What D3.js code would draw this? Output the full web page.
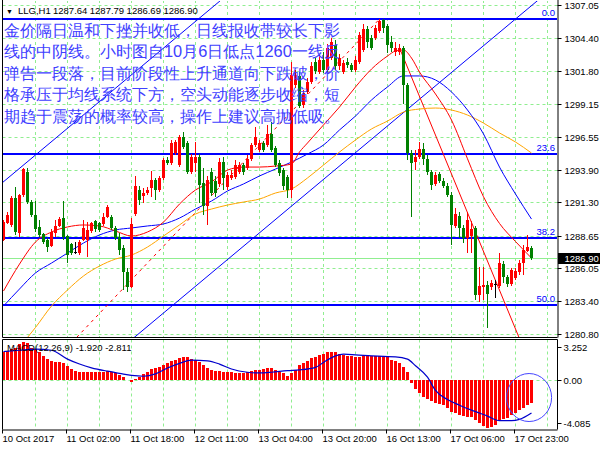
<!DOCTYPE html>
<html><head><meta charset="utf-8">
<script src="https://cdn.jsdelivr.net/npm/d3@7"></script>
<style>
body{margin:0;background:#fff;}
svg{display:block;}
text{font-family:"Liberation Sans",Arial,sans-serif;}
</style>
</head><body>
<svg id="c" width="600" height="450"></svg>
<script>
// ---------------- DATA ----------------
const symbol = "LLG,H1";
const headerValues = ["1287.64", "1287.79", "1286.69", "1286.90"];
const timeLabels = ["10 Oct 2017","11 Oct 02:00","11 Oct 18:00","12 Oct 11:00","13 Oct 04:00","13 Oct 20:00","16 Oct 13:00","17 Oct 06:00","17 Oct 23:00"];
const timeLabelBars = [0,16,32,48,64,80,96,112,128];
const priceTicks = [1307.05,1304.40,1301.80,1299.15,1296.55,1293.90,1291.30,1288.65,1286.05,1283.40,1280.80];
const macdTicks = [3.252, 0, -4.085];
const macdTickLabels = ["3.252", "0.00", "-4.085"];

const opens = [1288.30,1289.65,1289.50,1291.65,1288.86,1291.89,1293.72,1291.33,1290.29,1289.34,1288.78,1288.30,1287.82,1288.86,1289.42,1290.05,1288.62,1287.98,1287.34,1287.26,1288.30,1288.30,1289.02,1289.81,1289.65,1289.58,1290.13,1290.13,1289.26,1288.54,1287.66,1285.75,1284.55,1290.37,1292.29,1291.81,1292.05,1292.45,1293.09,1292.29,1293.25,1294.68,1294.44,1295.24,1294.28,1296.52,1296.04,1293.72,1294.44,1294.92,1292.85,1291.01,1293.72,1293.01,1292.77,1294.52,1292.53,1293.25,1293.33,1293.72,1294.28,1294.04,1294.76,1295.88,1295.48,1296.04,1295.88,1296.76,1295.64,1294.44,1293.88,1293.33,1292.29,1300.67,1301.39,1299.07,1300.11,1300.91,1302.50,1301.70,1302.66,1301.86,1302.82,1303.86,1302.18,1301.70,1302.50,1302.26,1301.86,1302.50,1303.46,1305.14,1304.42,1304.42,1304.98,1305.85,1305.38,1304.10,1303.30,1303.30,1303.62,1300.67,1295.24,1294.52,1294.92,1295.56,1294.76,1293.72,1292.77,1293.57,1293.01,1292.61,1291.89,1289.42,1290.21,1289.26,1288.46,1288.62,1289.26,1283.91,1284.55,1284.71,1284.55,1284.79,1284.63,1286.38,1285.35,1284.79,1285.27,1285.75,1286.46,1287.42,1287.64];
const highs = [1289.89,1290.53,1291.81,1292.53,1291.97,1294.04,1294.04,1291.49,1291.41,1289.89,1288.86,1288.46,1289.18,1289.89,1290.13,1291.41,1288.70,1288.06,1288.14,1288.30,1289.89,1289.73,1289.73,1289.89,1289.73,1290.45,1291.09,1290.29,1289.42,1288.86,1287.90,1286.06,1290.05,1293.41,1292.61,1292.45,1292.53,1293.80,1293.25,1293.41,1294.84,1294.92,1296.28,1296.28,1296.68,1296.92,1296.20,1295.16,1296.12,1295.16,1294.04,1293.41,1294.04,1293.41,1294.84,1294.92,1293.72,1293.88,1294.68,1294.52,1294.44,1295.08,1296.04,1297.32,1296.28,1296.20,1297.48,1297.71,1295.80,1294.68,1294.04,1293.49,1302.50,1301.86,1301.70,1300.27,1301.23,1302.50,1302.82,1303.06,1303.30,1303.94,1304.42,1304.26,1303.14,1302.66,1302.82,1302.42,1302.98,1304.90,1305.53,1305.38,1304.66,1305.45,1305.93,1305.90,1305.53,1304.58,1304.10,1303.94,1303.78,1300.83,1295.48,1295.48,1296.12,1296.04,1295.08,1293.88,1293.72,1293.72,1293.25,1292.85,1292.13,1290.85,1290.53,1289.50,1290.53,1289.81,1289.42,1286.14,1286.14,1285.03,1285.11,1285.11,1287.26,1286.62,1285.51,1286.06,1286.06,1286.70,1287.90,1288.70,1287.79];
const lows = [1288.22,1289.58,1289.34,1288.70,1288.54,1291.73,1291.17,1290.13,1288.94,1288.54,1287.98,1287.34,1287.74,1288.54,1289.34,1288.30,1286.46,1287.10,1287.18,1287.10,1288.22,1286.94,1288.86,1288.94,1288.94,1289.42,1290.05,1289.10,1288.30,1287.10,1284.31,1284.15,1284.47,1290.21,1291.09,1291.25,1291.89,1291.73,1291.49,1292.13,1293.09,1294.28,1294.28,1295.08,1294.12,1295.56,1293.57,1293.57,1293.72,1291.25,1290.29,1289.50,1291.81,1291.73,1292.53,1292.29,1292.29,1293.09,1293.17,1293.57,1293.49,1293.88,1294.60,1295.72,1295.32,1295.32,1295.72,1295.32,1294.12,1293.41,1292.29,1291.65,1291.65,1300.43,1298.83,1298.83,1299.95,1300.75,1301.54,1301.54,1301.62,1301.70,1302.66,1301.86,1301.86,1301.54,1302.02,1301.70,1301.70,1302.34,1303.30,1303.62,1303.46,1304.26,1304.82,1304.82,1303.22,1303.30,1302.98,1303.06,1299.15,1294.68,1290.13,1293.88,1294.76,1294.28,1293.49,1292.29,1292.61,1292.85,1292.45,1291.73,1287.90,1289.26,1288.46,1288.06,1287.26,1287.26,1283.51,1283.35,1283.51,1281.28,1284.31,1283.67,1284.47,1284.87,1284.55,1284.63,1285.11,1285.51,1285.51,1287.34,1286.69];
const closes = [1289.73,1290.29,1291.65,1288.94,1291.89,1293.96,1291.33,1290.29,1289.18,1288.70,1288.14,1287.74,1288.94,1289.42,1289.97,1288.54,1287.10,1287.26,1287.34,1288.14,1289.26,1289.10,1289.65,1289.18,1289.10,1290.13,1290.93,1289.26,1288.46,1287.50,1285.75,1284.55,1289.58,1292.61,1291.49,1292.05,1292.29,1293.09,1292.29,1293.25,1294.68,1294.44,1296.04,1296.12,1296.52,1295.72,1293.72,1294.92,1294.92,1292.69,1291.01,1293.09,1292.05,1292.05,1294.52,1293.25,1293.49,1293.49,1294.28,1294.28,1293.72,1294.76,1295.88,1296.52,1296.04,1295.48,1296.76,1295.48,1294.28,1293.65,1292.61,1292.29,1301.46,1301.46,1298.99,1300.03,1300.91,1302.18,1301.78,1302.66,1301.86,1303.62,1304.10,1302.18,1302.82,1302.42,1302.26,1301.86,1302.66,1304.66,1305.14,1304.10,1303.62,1305.22,1305.77,1305.22,1303.86,1303.62,1303.62,1303.62,1300.67,1295.24,1294.44,1294.92,1295.56,1294.76,1293.72,1292.69,1293.49,1293.01,1292.61,1291.89,1289.50,1290.37,1289.26,1288.46,1289.89,1289.18,1283.91,1284.63,1284.71,1283.99,1284.87,1284.79,1286.46,1285.35,1284.79,1285.90,1285.83,1286.46,1287.50,1287.74,1286.90];

const redMaBars = [0,4,8,12,16,20,24,28,32,36,40,44,48,52,56,60,64,68,72,74,76,80,84,88,92,96,98,100,102,104,108,112,116,120,124,128,132];
const redMa = [1284.23,1286.38,1288.14,1288.94,1289.34,1289.50,1289.42,1289.02,1288.62,1288.94,1289.73,1291.17,1292.29,1292.93,1293.88,1294.12,1294.12,1294.20,1294.36,1295.32,1296.04,1297.48,1298.91,1300.51,1301.94,1302.98,1303.38,1303.46,1302.82,1301.70,1299.95,1297.87,1294.78,1291.75,1289.62,1288.18,1286.86];
const blueMaBars = [0,4,8,12,16,20,24,28,32,36,40,44,48,52,56,60,64,68,72,76,80,84,88,92,96,100,104,108,112,116,120,124,128,132];
const blueMa = [1283.03,1284.39,1285.67,1286.46,1287.26,1288.06,1288.70,1289.10,1289.26,1289.42,1289.58,1290.05,1290.77,1291.41,1292.21,1292.77,1293.41,1293.96,1294.52,1295.16,1295.88,1297.08,1298.19,1299.47,1300.51,1301.39,1301.39,1301.07,1300.11,1298.67,1296.76,1294.12,1291.97,1289.97];
const orangeMaBars = [4,8,12,16,20,24,28,32,36,40,44,48,52,56,60,64,68,72,76,80,84,88,92,96,100,104,108,112,116,120,124,128,132];
const orangeMa = [1279.76,1281.32,1283.03,1284.31,1285.43,1286.22,1286.78,1287.10,1287.74,1288.62,1289.50,1290.37,1290.77,1291.09,1291.33,1291.57,1292.05,1292.37,1293.25,1294.28,1295.32,1296.28,1297.16,1297.79,1298.51,1298.75,1298.83,1298.67,1298.27,1297.63,1296.84,1296.12,1295.24];

const macdHist = [2.36,2.50,2.64,2.72,3.10,3.252,3.15,2.78,2.64,2.36,2.07,1.79,1.65,1.51,1.51,1.46,1.23,0.95,0.81,0.73,0.67,0.67,0.67,0.67,0.73,0.73,0.75,0.67,0.58,0.47,0.25,0.02,-0.17,0.11,0.30,0.53,0.67,0.95,1.03,1.15,1.32,1.46,1.60,1.71,1.88,1.93,1.93,1.79,1.71,1.51,1.32,1.03,0.87,0.75,0.75,0.70,0.67,0.67,0.61,0.58,0.58,0.67,0.75,0.87,0.89,0.98,1.03,1.03,0.87,0.67,0.58,0.39,0.58,0.87,1.29,1.43,1.65,1.88,1.99,2.16,2.27,2.36,2.41,2.41,2.27,2.16,2.07,2.07,1.99,1.99,2.07,2.07,2.07,2.07,2.07,2.02,1.93,1.71,1.60,1.43,1.09,0.67,-0.23,-0.74,-1.10,-1.44,-1.58,-1.78,-1.94,-2.00,-2.14,-2.34,-2.70,-2.84,-2.98,-3.07,-3.13,-3.18,-3.41,-3.70,-3.95,-4.085,-4.00,-3.80,-3.50,-3.35,-3.27,-2.98,-2.79,-2.56,-2.34,-2.14,-1.92];
const signalBars = [0,4,8,12,16,19,22,26,29,32,35,38,41,44,47,51,54,57,61,64,67,71,74,78,80,83,85,88,92,95,98,101,103,106,108,111,114,117,121,124,127,129,132];
const signalVals = [2.44,2.55,2.64,2.55,1.79,1.37,1.05,0.76,0.58,0.40,0.33,0.53,1.03,1.43,1.71,1.65,1.37,0.95,0.67,0.61,0.67,0.81,0.87,1.09,1.51,2.07,2.21,2.16,2.07,2.02,1.99,1.79,1.23,0.25,-0.88,-1.66,-2.14,-2.56,-3.07,-3.46,-3.46,-3.35,-2.811];
const macdTitle = "MACD(12,26,9) -1.920 -2.811";

// drawn objects (anchors as [bar, price])
const fibLow = [-42, 1260.30];
const fibHigh = [94, 1305.93];
const fibLevels = [0, 0.236, 0.382, 0.5];
const channelUpper = [[0, 1292.95], [60, 1308.94]];
const channelLower = [[30, 1279.81], [140, 1309.13]];
const downTrend = [[99, 1303.62], [129, 1280.43]];
const macdCircle = [131.4, -1.485];

const noteLines = [
  "金价隔日温和下挫并收低，日线报收带较长下影",
  "线的中阴线。小时图自10月6日低点1260一线反",
  "弹告一段落，目前阶段性上升通道向下跌破，价",
  "格承压于均线系统下方，空头动能逐步收缩，短",
  "期趋于震荡的概率较高，操作上建议高抛低吸。"
];

// ---------------- DRAWING ----------------
const svg = d3.select("#c");
const L = 2.5, R = 557.5, T = 0, B = 337.5, MT = 339.5, MB = 429.5;
const x = d3.scaleLinear().domain([0, 132]).range([3.5, 531.5]);
const y = d3.scaleLinear().domain([1280.80, 1307.05]).range([334, 5]);
const ym = d3.scaleLinear().domain([-4.085, 3.252]).range([428, 342]);
const gridColor = "#90ee90";
const snap = v => Math.round(v) + 0.5;

const defs = svg.append("defs");
defs.append("clipPath").attr("id", "cm").append("rect").attr("x", L + 0.5).attr("y", 1).attr("width", R - L - 1).attr("height", B - 1.5);
defs.append("clipPath").attr("id", "cd").append("rect").attr("x", L + 0.5).attr("y", MT + 0.5).attr("width", R - L - 1).attr("height", MB - MT - 1);

const gm = svg.append("g").attr("clip-path", "url(#cm)");
const gd = svg.append("g").attr("clip-path", "url(#cd)");

// grid
const gridBars = d3.range(8, 137, 8);
gm.selectAll(".hg").data(priceTicks).join("line")
  .attr("x1", L).attr("x2", R).attr("y1", d => snap(y(d))).attr("y2", d => snap(y(d)))
  .attr("stroke", gridColor).attr("stroke-dasharray", "3,3");
gm.selectAll(".vg").data(gridBars).join("line")
  .attr("x1", d => x(d)).attr("x2", d => x(d)).attr("y1", T).attr("y2", B)
  .attr("stroke", gridColor).attr("stroke-dasharray", "3,3");
gd.selectAll(".vg").data(gridBars).join("line")
  .attr("x1", d => x(d)).attr("x2", d => x(d)).attr("y1", MT).attr("y2", MB)
  .attr("stroke", gridColor).attr("stroke-dasharray", "3,3");
gd.append("line").attr("x1", L).attr("x2", R).attr("y1", snap(ym(0))).attr("y2", snap(ym(0)))
  .attr("stroke", gridColor).attr("stroke-dasharray", "3,3");

// bid line
const last = closes[closes.length - 1];
gm.append("line").attr("x1", L).attr("x2", R).attr("y1", snap(y(last))).attr("y2", snap(y(last)))
  .attr("stroke", gridColor).attr("stroke-width", 1);

// fibonacci levels
const fibRange = fibHigh[1] - fibLow[1];
const fibPrices = fibLevels.map(l => fibHigh[1] - fibRange * l);
gm.selectAll(".fib").data(fibPrices).join("line")
  .attr("x1", L).attr("x2", R).attr("y1", d => Math.round(y(d))).attr("y2", d => Math.round(y(d)))
  .attr("stroke", "#0000ff").attr("stroke-width", 2).attr("shape-rendering", "crispEdges");
gm.selectAll(".fibt").data(fibLevels).join("text")
  .attr("x", 555).attr("y", (d, i) => Math.round(y(fibPrices[i])) - 3)
  .attr("text-anchor", "end").attr("font-size", "9.5px").attr("fill", "#0000ff")
  .text(d => (d * 100).toFixed(1));
// fib trend line (dashed)
gm.append("line").attr("x1", x(fibLow[0])).attr("y1", y(fibLow[1])).attr("x2", x(fibHigh[0])).attr("y2", y(fibHigh[1]))
  .attr("stroke", "#ff0000").attr("stroke-dasharray", "3,4");

// channel lines
function extLine(p, x0, x1) {
  const s = (p[1][1] - p[0][1]) / (p[1][0] - p[0][0]);
  return [[x0, p[0][1] + s * (x0 - p[0][0])], [x1, p[0][1] + s * (x1 - p[0][0])]];
}
[channelUpper, channelLower].forEach(ch => {
  const e = extLine(ch, -10, 145);
  gm.append("line").attr("x1", x(e[0][0])).attr("y1", y(e[0][1])).attr("x2", x(e[1][0])).attr("y2", y(e[1][1]))
    .attr("stroke", "#0000ff").attr("stroke-width", 1);
});
{
  const e = extLine(downTrend, downTrend[0][0], 140);
  gm.append("line").attr("x1", x(e[0][0])).attr("y1", y(e[0][1])).attr("x2", x(e[1][0])).attr("y2", y(e[1][1]))
    .attr("stroke", "#ff0000").attr("stroke-width", 1);
}

// moving averages
function maLine(bars, vals, color) {
  const line = d3.line().x((d, i) => x(bars[i])).y(d => y(d)).curve(d3.curveMonotoneX);
  gm.append("path").attr("d", line(vals)).attr("fill", "none").attr("stroke", color).attr("stroke-width", 1);
}
maLine(orangeMaBars, orangeMa, "#ffa500");
maLine(blueMaBars, blueMa, "#0000ff");
maLine(redMaBars, redMa, "#ff0000");

// candles
const idx = d3.range(opens.length);
const col = i => closes[i] > opens[i] ? "#ff0000" : (closes[i] < opens[i] ? "#008000" : "#000000");
gm.selectAll(".wick").data(idx).join("line")
  .attr("x1", i => x(i)).attr("x2", i => x(i))
  .attr("y1", i => y(highs[i])).attr("y2", i => y(lows[i]))
  .attr("stroke", col).attr("stroke-width", 1).attr("shape-rendering", "crispEdges");
gm.selectAll(".body").data(idx).join("rect")
  .attr("x", i => x(i) - 1.5).attr("width", 3)
  .attr("y", i => y(Math.max(opens[i], closes[i])))
  .attr("height", i => Math.max(1, y(Math.min(opens[i], closes[i])) - y(Math.max(opens[i], closes[i]))))
  .attr("fill", col).attr("shape-rendering", "crispEdges");

// MACD histogram + signal
gd.selectAll(".hist").data(macdHist).join("rect")
  .attr("x", (d, i) => x(i) - 1.5).attr("width", 3)
  .attr("y", d => ym(Math.max(0, d))).attr("height", d => Math.abs(ym(d) - ym(0)))
  .attr("fill", "#ff0000").attr("shape-rendering", "crispEdges");
gd.append("path").attr("d", d3.line().x((d, i) => x(signalBars[i])).y(d => ym(d)).curve(d3.curveMonotoneX)(signalVals))
  .attr("fill", "none").attr("stroke", "#0000cc").attr("stroke-width", 1.2);
gd.append("ellipse").attr("cx", x(macdCircle[0])).attr("cy", ym(macdCircle[1])).attr("rx", 22.5).attr("ry", 24)
  .attr("fill", "none").attr("stroke", "#4444ff").attr("stroke-width", 1);

// borders
svg.append("line").attr("x1", L).attr("x2", L).attr("y1", 0).attr("y2", B).attr("stroke", "#000");
svg.append("line").attr("x1", L).attr("x2", L).attr("y1", MT).attr("y2", MB).attr("stroke", "#000");
svg.append("line").attr("x1", L).attr("x2", R).attr("y1", B).attr("y2", B).attr("stroke", "#000");
svg.append("line").attr("x1", L).attr("x2", R).attr("y1", MT).attr("y2", MT).attr("stroke", "#000");

// price axis
const ay = svg.append("g").attr("transform", `translate(${R},0)`)
  .call(d3.axisRight(y).tickValues(priceTicks).tickFormat(d3.format(".2f")).tickSize(4).tickPadding(3).tickSizeOuter(0));
ay.select(".domain").attr("d", `M0.5,0V${B}`).attr("stroke", "#000");
ay.selectAll(".tick line").attr("stroke", "#000");
ay.selectAll(".tick text").attr("font-size", "9.5px").attr("font-family", "Liberation Sans, Arial, sans-serif").attr("fill", "#000");
ay.selectAll(".tick").attr("transform", d => `translate(0,${snap(y(d))})`);

// last price box
svg.append("rect").attr("x", R + 0.5).attr("y", Math.round(y(last)) - 5).attr("width", 600 - R).attr("height", 11).attr("fill", "#000");
svg.append("text").attr("x", R + 7).attr("y", Math.round(y(last)) + 4).attr("font-size", "9.5px").attr("fill", "#fff").text(last.toFixed(2));

// MACD axis
svg.append("line").attr("x1", R).attr("x2", R).attr("y1", MT).attr("y2", MB).attr("stroke", "#000");
macdTicks.forEach((v, i) => {
  const yy = Math.round(Math.min(Math.max(ym(v), MT + 7), MB - 7)) + 0.5;
  svg.append("line").attr("x1", R).attr("x2", R + 4).attr("y1", yy).attr("y2", yy).attr("stroke", "#000");
  svg.append("text").attr("x", R + 6).attr("y", yy + 3.5).attr("font-size", "9.5px").attr("fill", "#000").text(macdTickLabels[i]);
});

// time axis
const ax = svg.append("g").attr("transform", `translate(0,${MB})`)
  .call(d3.axisBottom(x).tickValues(timeLabelBars).tickFormat((d, i) => timeLabels[i]).tickSize(4).tickPadding(2).tickSizeOuter(0));
ax.select(".domain").attr("d", `M${L},0.5H${R}`).attr("stroke", "#000");
ax.selectAll(".tick line").attr("stroke", "#000");
ax.selectAll(".tick").attr("transform", d => `translate(${Math.floor(x(d)) - 0.5},0)`);
ax.selectAll(".tick text").attr("text-anchor", "start").attr("x", 0).attr("dy", "0.71em")
  .attr("font-size", "9.5px").attr("font-family", "Liberation Sans, Arial, sans-serif").attr("fill", "#000");

// texts
svg.append("text").attr("x", 6).attr("y", 13.5).attr("font-size", "7px").attr("fill", "#000").text("▼");
svg.append("text").attr("x", 18).attr("y", 13.5).attr("font-size", "9.5px").attr("fill", "#000").text(symbol);
headerValues.forEach((v, i) => svg.append("text").attr("x", 53 + 36.8 * i).attr("y", 13.5).attr("font-size", "9.5px").attr("fill", "#000").text(v));
svg.append("text").attr("x", 7).attr("y", 351).attr("font-size", "9.5px").attr("fill", "#000").text(macdTitle);

svg.append("g").selectAll("text").data(noteLines).join("text")
  .attr("x", 4).attr("y", (d, i) => 35.7 + 21.5 * i)
  .attr("font-family", "'Noto Sans CJK SC', sans-serif").attr("font-size", "16.4px").attr("fill", "#4040ff")
  .text(d => d);
</script>
</body></html>
